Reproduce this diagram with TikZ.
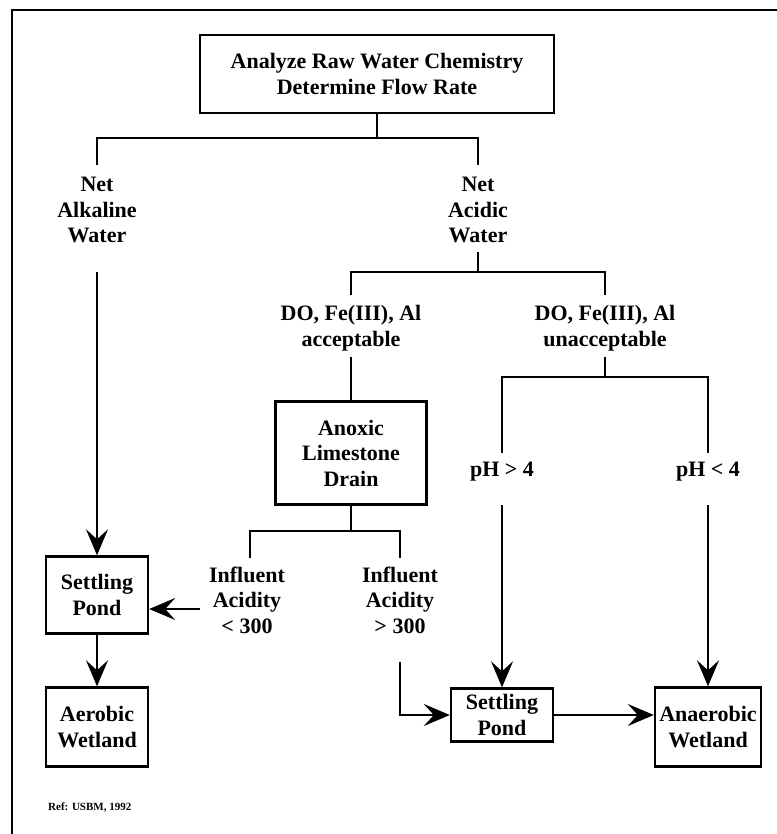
\documentclass[tikz,border=0pt]{standalone}
\usepackage{fontspec}
\setmainfont{Liberation Serif}
\usetikzlibrary{arrows.meta}
\begin{document}
\begin{tikzpicture}[x=1pt,y=-1pt,
  txt/.style={font=\bfseries\fontsize{22}{25.5}\selectfont, align=center, inner sep=0pt},
  box/.style={txt, draw, line width=2.4pt},
  conn/.style={line width=1.8pt},
  arr/.style={conn, -{Stealth[length=26pt,width=22pt,inset=10pt]}}]
\useasboundingbox (0,0) rectangle (776,834);
% frame
\draw[line width=2.8pt] (12,840) -- (12,10) -- (790,10);

% boxes
\node[box, minimum width=354pt, minimum height=78pt] (top) at (377,74)
  {Analyze Raw Water Chemistry\\Determine Flow Rate};
\node[box, minimum width=151pt, minimum height=103pt] (ald) at (351,453)
  {Anoxic\\Limestone\\Drain};
\node[box, minimum width=102pt, minimum height=77pt] (sp1) at (97,595)
  {Settling\\Pond};
\node[box, minimum width=102pt, minimum height=79pt] (aw) at (97,727)
  {Aerobic\\Wetland};
\node[box, minimum width=102pt, minimum height=53pt] (sp2) at (502,715)
  {Settling\\Pond};
\node[box, minimum width=106pt, minimum height=79pt] (anw) at (708,727)
  {Anaerobic\\Wetland};

% labels
\node[txt] (alk) at (97,210) {Net\\Alkaline\\Water};
\node[txt] (acid) at (478,210) {Net\\Acidic\\Water};
\node[txt] (acc) at (351,328) {DO, Fe(III), Al\\acceptable};
\node[txt] (unacc) at (605,328) {DO, Fe(III), Al\\unacceptable};
\node[txt] (phg) at (502,472) {pH > 4};
\node[txt] (phl) at (708,472) {pH < 4};
\node[txt] (inl) at (247,600) {Influent\\Acidity\\< 300};
\node[txt] (ing) at (400,600) {Influent\\Acidity\\> 300};
\node[font=\bfseries\fontsize{11}{12}\selectfont, anchor=west, inner sep=0pt] (ref) at (48,807) {Ref: USBM, 1992};

% junction and end points
\coordinate (j1) at (377,138);
\coordinate (a1) at (97,165);
\coordinate (a2) at (478,165);
\coordinate (a3) at (97,272);
\coordinate (b1) at (478,252);
\coordinate (j2) at (478,272);
\coordinate (c1) at (351,295);
\coordinate (c2) at (605,295);
\coordinate (c3) at (351,357);
\coordinate (d1) at (605,357);
\coordinate (j3) at (605,377);
\coordinate (e1) at (502,453);
\coordinate (e2) at (708,453);
\coordinate (e3) at (502,505);
\coordinate (e4) at (708,505);
\coordinate (j4) at (351,531);
\coordinate (f1) at (250,558);
\coordinate (f2) at (400,558);
\coordinate (g1) at (200,609);
\coordinate (g2) at (400,662);

% connectors
\draw[conn] (top.south) -- (j1);
\draw[conn] (a1) -- (a1 |- j1) -- (a2 |- j1) -- (a2);
\draw[arr] (a3) -- (sp1.north);
\draw[conn] (b1) -- (j2);
\draw[conn] (c1) -- (c1 |- j2) -- (c2 |- j2) -- (c2);
\draw[conn] (c3) -- (ald.north);
\draw[conn] (d1) -- (j3);
\draw[conn] (e1) -- (e1 |- j3) -- (e2 |- j3) -- (e2);
\draw[arr] (e3) -- (sp2.north);
\draw[arr] (e4) -- (anw.north);
\draw[conn] (ald.south) -- (j4);
\draw[conn] (f1) -- (f1 |- j4) -- (f2 |- j4) -- (f2);
\draw[arr] (g1) -- (g1 -| sp1.east);
\draw[arr] (sp1.south) -- (aw.north);
\draw[arr] (g2) |- (sp2.west);
\draw[arr] (sp2.east) -- (sp2.east -| anw.west);
\end{tikzpicture}
\end{document}
